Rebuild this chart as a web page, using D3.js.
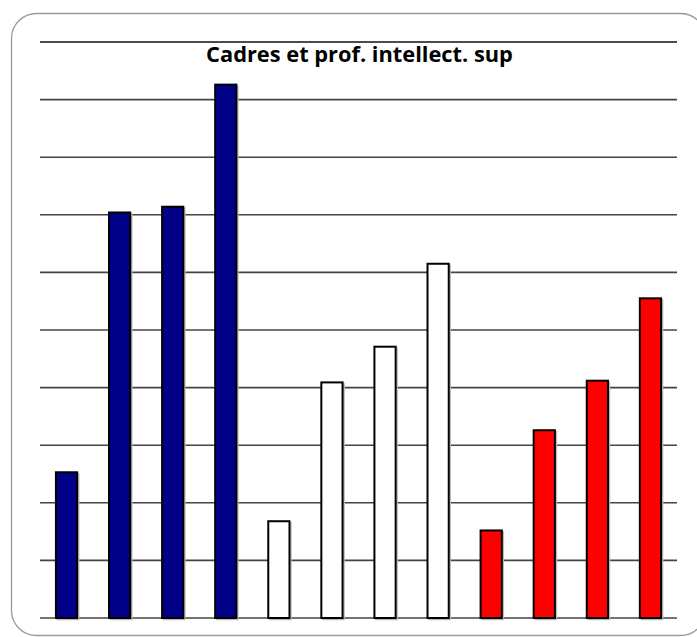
<!DOCTYPE html>
<html>
<head>
<meta charset="utf-8">
<script src="https://cdn.jsdelivr.net/npm/d3@7"></script>
<style>
  body { margin: 0; background: #fff; }
  svg { display: block; }
</style>
</head>
<body>
<div id="graphique"></div>
<script>
// données (4 barres bleues, 4 blanches, 4 rouges)
var categories = ["b1", "b2", "b3", "b4", "w1", "w2", "w3", "w4", "r1", "r2", "r3", "r4"];
var valeurs = [2.53, 7.04, 7.14, 9.26, 1.68, 4.09, 4.71, 6.15, 1.52, 3.26, 4.12, 5.55];
var couleurs = ["#000088", "#000088", "#000088", "#000088",
                "#ffffff", "#ffffff", "#ffffff", "#ffffff",
                "#ff0000", "#ff0000", "#ff0000", "#ff0000"];
var graduations = [0, 1, 2, 3, 4, 5, 6, 7, 8, 9, 10];
var titre = "Cadres et prof. intellect. sup";

var width = 697,
    height = 637;

var svg = d3.select("#graphique").append("svg")
    .attr("width", width)
    .attr("height", height);

// cadre arrondi
svg.append("rect")
    .attr("x", 11.5)
    .attr("y", 13.5)
    .attr("width", 694)
    .attr("height", 622)
    .attr("rx", 25)
    .attr("ry", 25)
    .attr("fill", "none")
    .attr("stroke", "#9a9a9a")
    .attr("stroke-width", 1.3);

var x = d3.scaleBand()
    .domain(categories)
    .range([40, 677])
    .paddingInner(0.6)
    .paddingOuter(0.3);

var y = d3.scaleLinear()
    .domain([0, 10])
    .range([618, 42]);

// lignes de grille
svg.selectAll(".grille")
    .data(graduations)
    .enter().append("line")
    .attr("class", "grille")
    .attr("x1", 40)
    .attr("x2", 677)
    .attr("y1", function(d) { return y(d); })
    .attr("y2", function(d) { return y(d); })
    .attr("stroke", function(d) { return d === 10 ? "#111" : "#444"; })
    .attr("stroke-width", 1.6);

// ombre légère
svg.selectAll(".ombre")
    .data(valeurs)
    .enter().append("rect")
    .attr("class", "ombre")
    .attr("x", function(d, i) { return x(categories[i]) + 1.5; })
    .attr("y", function(d) { return y(d) + 1.5; })
    .attr("width", x.bandwidth())
    .attr("height", function(d) { return y(0) - y(d); })
    .attr("fill", "none")
    .attr("stroke", "#bbb")
    .attr("stroke-width", 1.5);

// barres
svg.selectAll(".barre")
    .data(valeurs)
    .enter().append("rect")
    .attr("class", "barre")
    .attr("x", function(d, i) { return x(categories[i]); })
    .attr("y", function(d) { return y(d); })
    .attr("width", x.bandwidth())
    .attr("height", function(d) { return y(0) - y(d); })
    .attr("fill", function(d, i) { return couleurs[i]; })
    .attr("stroke", "#000")
    .attr("stroke-width", 2);

// titre
var t = svg.append("text")
    .attr("x", 359.5)
    .attr("y", 61.5)
    .attr("text-anchor", "middle")
    .attr("font-family", "'Open Sans', 'Liberation Sans', sans-serif")
    .attr("font-weight", "bold")
    .attr("font-size", 18)
    .attr("fill", "#000")
    .text(titre);

var largeur = t.node().getComputedTextLength();
if (largeur > 0) {
  t.attr("font-size", 18 * 307 / largeur);
}
</script>
</body>
</html>
